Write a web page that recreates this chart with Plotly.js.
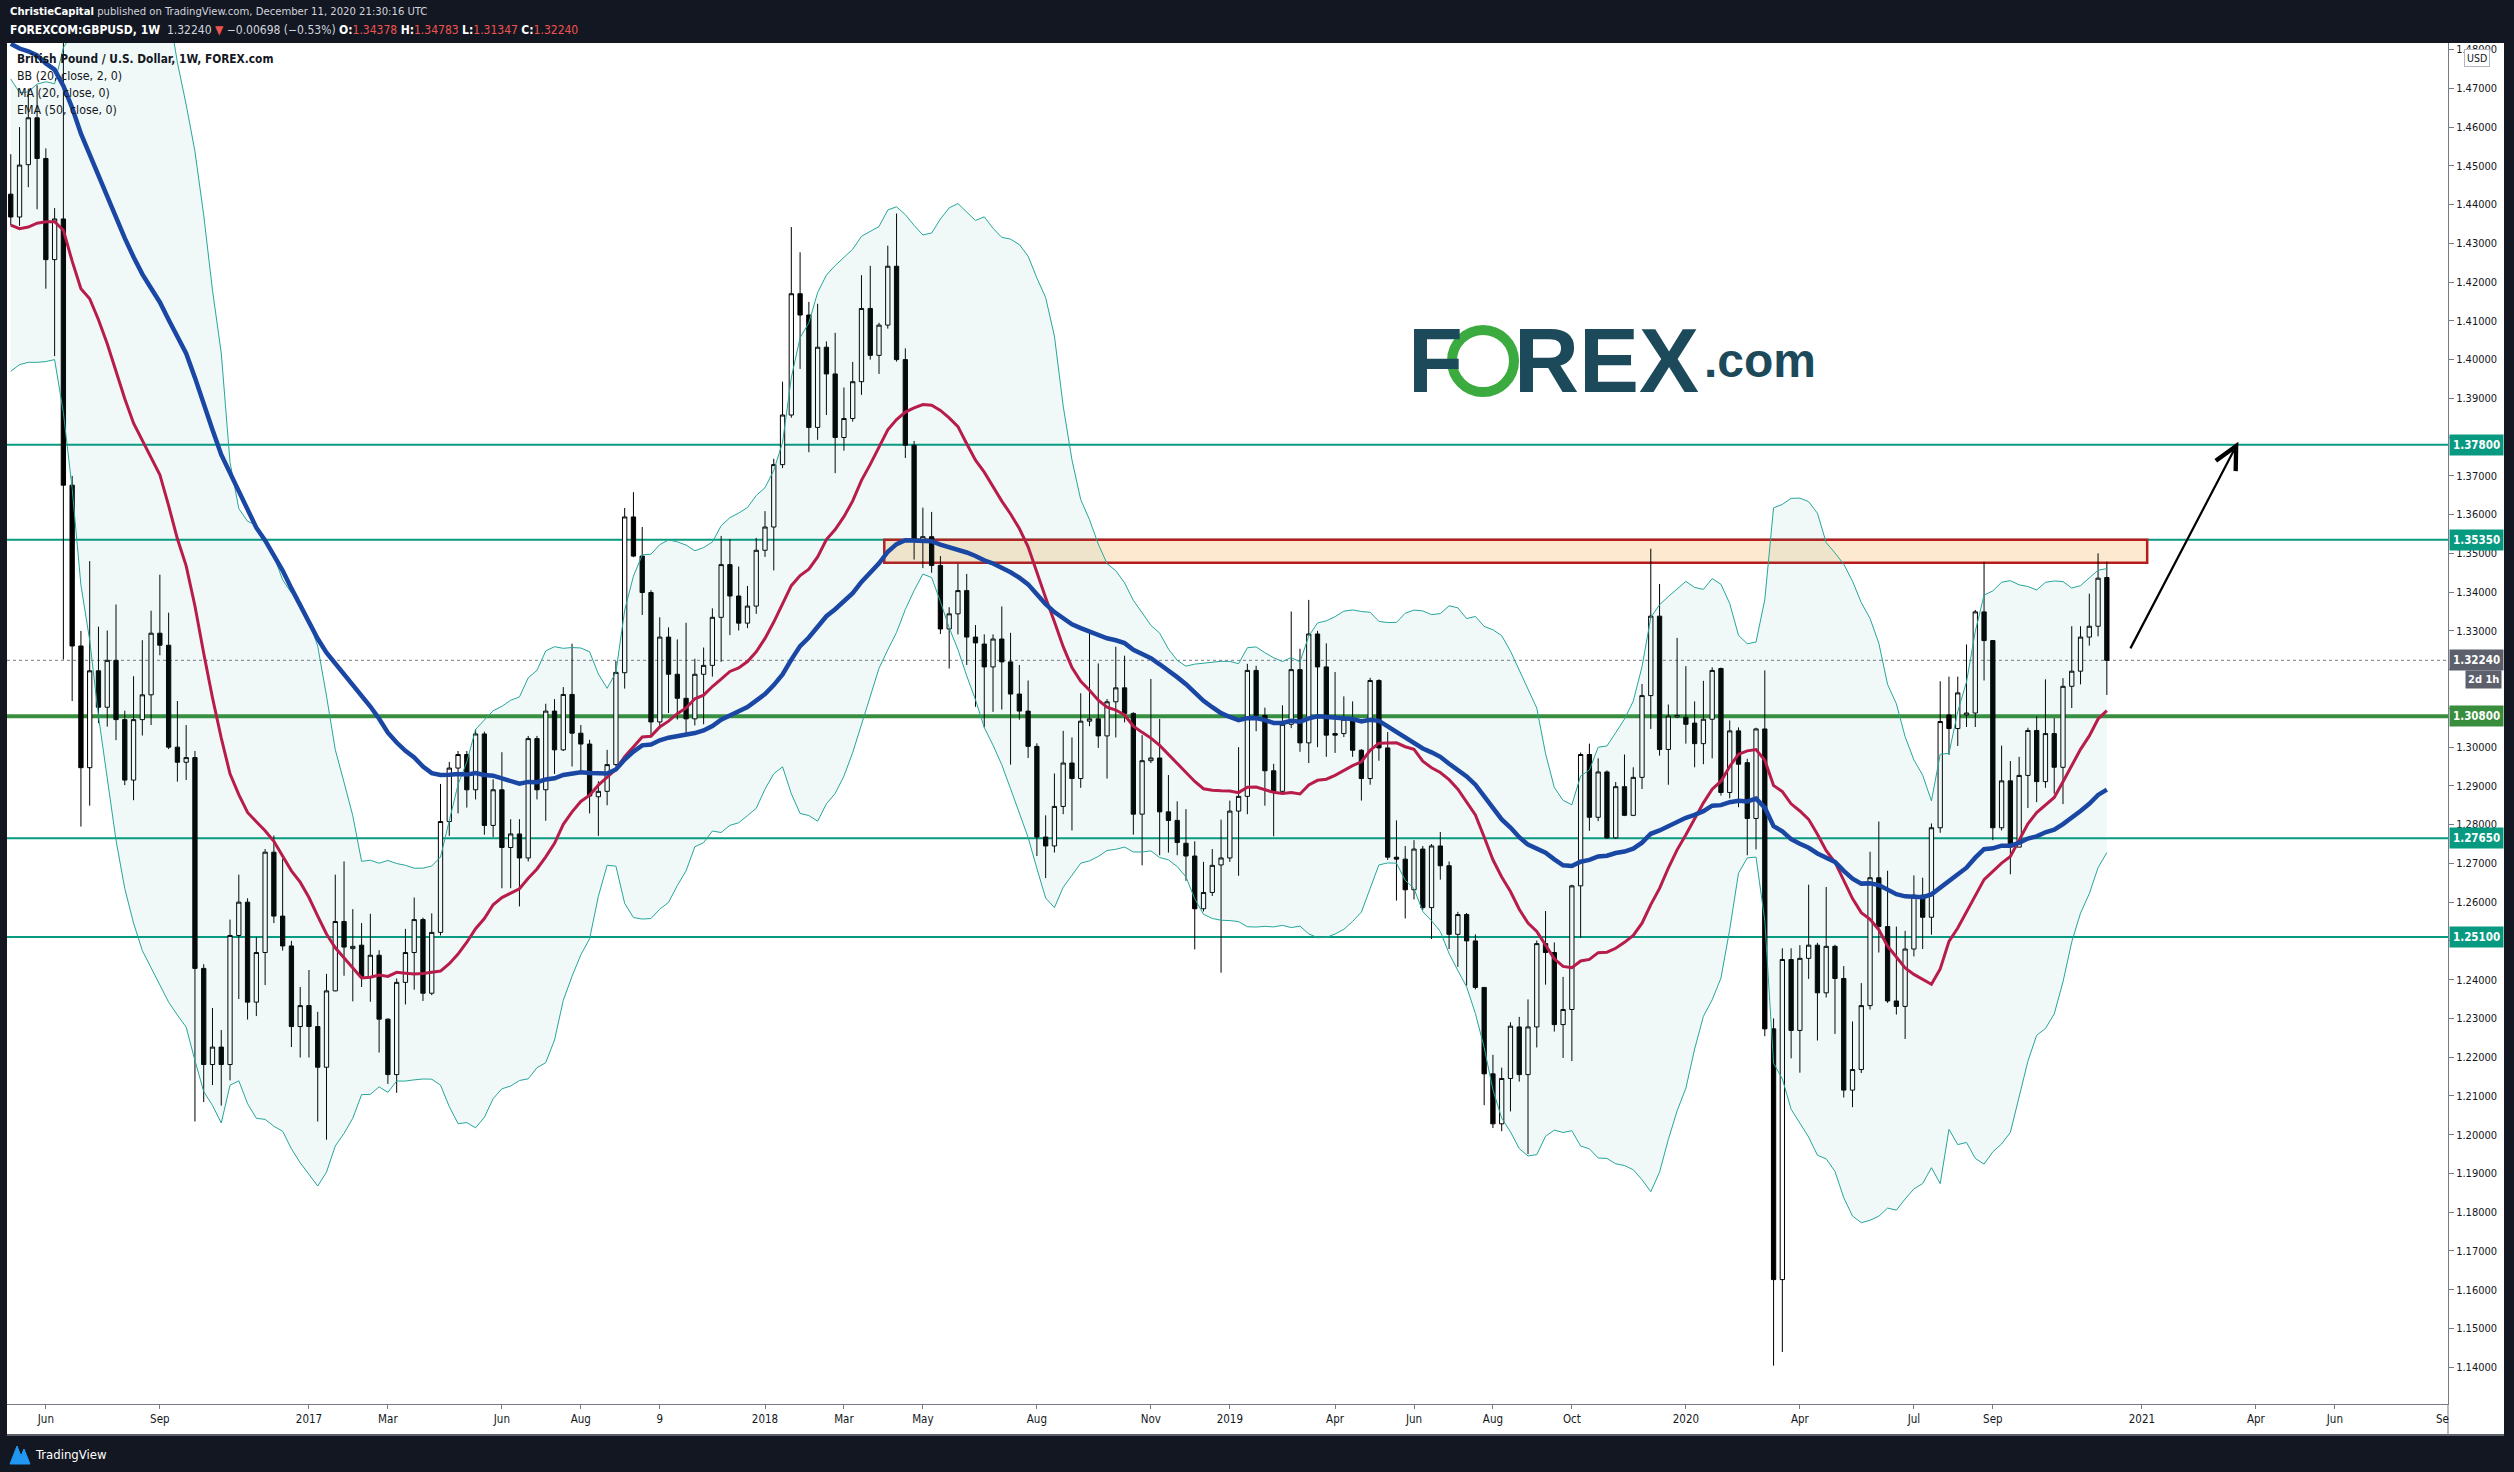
<!DOCTYPE html>
<html><head><meta charset="utf-8">
<script src="https://cdn.plot.ly/plotly-3.0.1.min.js"></script>
<style>html,body{margin:0;padding:0;background:#131722;}#chart{width:2514px;height:1472px;}</style>
</head><body><div id="chart"></div>
<script>
// ---------------- DATA ----------------
const firstWeek = '2016-05-09';
const opens = [1.4427,1.4368,1.4503,1.4624,1.4519,1.4258,1.4363,1.3676,1.3261,1.2947,1.3197,1.3103,1.3224,1.3071,1.2915,1.3071,1.3135,1.3294,1.3263,1.3000,
1.2961,1.2973,1.2429,1.2181,1.2226,1.2181,1.2514,1.2600,1.2342,1.2470,1.2729,1.2564,1.2487,1.2279,1.2333,1.2279,1.2174,1.2371,1.2550,1.2480,
1.2489,1.2408,1.2463,1.2298,1.2155,1.2393,1.2470,1.2555,1.2365,1.2522,1.2808,1.2946,1.2981,1.2890,1.3034,1.2798,1.2890,1.2741,1.2776,1.2714,
1.3022,1.2890,1.3093,1.2993,1.3136,1.3036,1.3008,1.2872,1.2886,1.2955,1.3192,1.3594,1.3493,1.3399,1.3065,1.3284,1.3188,1.3126,1.3073,1.3188,
1.3211,1.3335,1.3471,1.3390,1.3320,1.3364,1.3508,1.3568,1.3729,1.3857,1.4170,1.4115,1.3825,1.4032,1.3963,1.3799,1.3848,1.3943,1.4132,1.4011,
1.4089,1.4241,1.4000,1.3779,1.3532,1.3543,1.3469,1.3305,1.3344,1.3404,1.3284,1.3266,1.3207,1.3279,1.3220,1.3137,1.3093,1.3002,1.2768,1.2745,
1.2847,1.2959,1.2919,1.3067,1.3073,1.3029,1.3117,1.3153,1.3087,1.2827,1.2965,1.2972,1.2833,1.2811,1.2752,1.2719,1.2583,1.2625,1.2696,1.2714,
1.2835,1.2873,1.3198,1.3082,1.2939,1.2886,1.3059,1.3200,1.3011,1.3292,1.3207,1.3035,1.3035,1.3072,1.2992,1.2919,1.3172,1.2998,1.2716,1.2711,
1.2632,1.2737,1.2586,1.2745,1.2694,1.2517,1.2568,1.2500,1.2380,1.2157,1.2028,1.2145,1.2278,1.2155,1.2278,1.2493,1.2470,1.2284,1.2323,1.2642,
1.2981,1.2819,1.2936,1.2766,1.2898,1.2824,1.2922,1.3133,1.3338,1.2994,1.3078,1.3077,1.3062,1.3009,1.3072,1.3203,1.2883,1.3042,1.2960,1.2816,
1.3047,1.2273,1.1626,1.2452,1.2269,1.2455,1.2489,1.2366,1.2486,1.2403,1.2115,1.2168,1.2333,1.2663,1.2537,1.2345,1.2331,1.2479,1.2618,1.2561,
1.2792,1.3083,1.3048,1.3083,1.3088,1.3349,1.3275,1.2792,1.2913,1.2742,1.2927,1.3043,1.2911,1.3035,1.2948,1.3157,1.3196,1.3284,1.3312,1.34378];
const highs = [1.4530,1.4600,1.4699,1.4708,1.4545,1.4391,1.5018,1.3700,1.3300,1.3480,1.3311,1.3301,1.3368,1.3094,1.3183,1.3276,1.3352,1.3445,1.3347,1.3119,
1.3057,1.2990,1.2440,1.2327,1.2270,1.2555,1.2671,1.2610,1.2510,1.2737,1.2772,1.2712,1.2500,1.2381,1.2425,1.2317,1.2415,1.2671,1.2705,1.2582,
1.2546,1.2570,1.2476,1.2300,1.2403,1.2531,1.2612,1.2560,1.2571,1.2905,1.2962,1.2990,1.2990,1.3046,1.3040,1.2917,1.2987,1.2814,1.2814,1.3029,
1.3029,1.3112,1.3124,1.3155,1.3267,1.3057,1.3019,1.2912,1.2993,1.3222,1.3617,1.3658,1.3568,1.3405,1.3335,1.3309,1.3278,1.3321,1.3228,1.3257,
1.3358,1.3545,1.3537,1.3466,1.3416,1.3540,1.3609,1.3744,1.3943,1.4342,1.4277,1.4149,1.4144,1.4047,1.4069,1.3928,1.3994,1.4218,1.4242,1.4095,
1.4294,1.4377,1.4029,1.3790,1.3618,1.3607,1.3493,1.3361,1.3473,1.3447,1.3315,1.3291,1.3291,1.3363,1.3295,1.3212,1.3172,1.3010,1.2824,1.2932,
1.3042,1.3025,1.3139,1.3295,1.3216,1.3124,1.3259,1.3236,1.3090,1.3031,1.3176,1.3073,1.2928,1.2860,1.2840,1.2757,1.2704,1.2737,1.2813,1.2862,
1.3000,1.3215,1.3210,1.3102,1.2957,1.3108,1.3350,1.3254,1.3380,1.3300,1.3268,1.3194,1.3131,1.3118,1.2995,1.3179,1.3175,1.3039,1.2811,1.2745,
1.2760,1.2745,1.2750,1.2781,1.2705,1.2575,1.2572,1.2517,1.2380,1.2206,1.2173,1.2290,1.2304,1.2349,1.2501,1.2577,1.2496,1.2407,1.2645,1.2986,
1.3009,1.2971,1.2940,1.2910,1.2981,1.2948,1.3163,1.3512,1.3421,1.3110,1.3282,1.3209,1.3118,1.3171,1.3206,1.3205,1.3069,1.3051,1.2970,1.3050,
1.3198,1.2300,1.2481,1.2481,1.2489,1.2645,1.2495,1.2639,1.2490,1.2435,1.2292,1.2391,1.2730,1.2808,1.2681,1.2537,1.2526,1.2669,1.2663,1.2803,
1.3170,1.3182,1.3182,1.3265,1.3354,1.3478,1.3275,1.3004,1.2964,1.2975,1.3050,1.3080,1.3175,1.3075,1.3178,1.3312,1.3312,1.3396,1.3500,1.34783];
const lows = [1.4347,1.4345,1.4445,1.4388,1.4183,1.4009,1.3226,1.3119,1.2795,1.2849,1.3062,1.3053,1.3018,1.2902,1.2863,1.3030,1.3057,1.3237,1.2995,1.2911,
1.2915,1.2034,1.2084,1.2128,1.2075,1.2140,1.2350,1.2297,1.2306,1.2386,1.2546,1.2475,1.2226,1.2199,1.2199,1.2034,1.1987,1.2370,1.2410,1.2344,
1.2381,1.2343,1.2212,1.2131,1.2108,1.2336,1.2374,1.2345,1.2360,1.2514,1.2771,1.2829,1.2844,1.2865,1.2774,1.2768,1.2636,1.2636,1.2589,1.2705,
1.2865,1.2810,1.2931,1.2990,1.2950,1.2941,1.2829,1.2771,1.2850,1.2950,1.3151,1.3490,1.3341,1.3031,1.3048,1.3088,1.3071,1.3036,1.3056,1.3059,
1.3182,1.3220,1.3289,1.3301,1.3307,1.3344,1.3491,1.3456,1.3720,1.3850,1.3976,1.3761,1.3793,1.3857,1.3707,1.3765,1.3840,1.3909,1.4000,1.3963,
1.4080,1.3995,1.3746,1.3484,1.3462,1.3450,1.3292,1.3203,1.3291,1.3212,1.3104,1.3051,1.3091,1.3097,1.2955,1.3071,1.2972,1.2719,1.2662,1.2728,
1.2827,1.2785,1.2895,1.3054,1.2998,1.2919,1.3025,1.3064,1.2774,1.2695,1.2959,1.2721,1.2728,1.2721,1.2655,1.2478,1.2576,1.2616,1.2418,1.2704,
1.2668,1.2827,1.3041,1.2849,1.2770,1.2878,1.3049,1.2988,1.2959,1.3000,1.2975,1.2985,1.3026,1.2975,1.2862,1.2903,1.2965,1.2709,1.2604,1.2558,
1.2607,1.2580,1.2505,1.2658,1.2479,1.2433,1.2385,1.2375,1.2076,1.2017,1.2009,1.2060,1.2137,1.1950,1.2225,1.2387,1.2266,1.2198,1.2190,1.2508,
1.2784,1.2809,1.2763,1.2763,1.2822,1.2822,1.2892,1.3047,1.2978,1.2903,1.3075,1.3009,1.2948,1.2956,1.2971,1.2875,1.2868,1.2845,1.2721,1.2736,
1.2254,1.1404,1.1439,1.2197,1.2160,1.2402,1.2243,1.2354,1.2260,1.2096,1.2071,1.2159,1.2323,1.2470,1.2340,1.2310,1.2247,1.2460,1.2479,1.2516,
1.2779,1.2980,1.3003,1.3052,1.3052,1.3172,1.2760,1.2785,1.2672,1.2742,1.2843,1.2858,1.2895,1.2880,1.2853,1.3101,1.3162,1.3262,1.3286,1.31347];
const closes = [1.4368,1.4502,1.4624,1.4519,1.4258,1.4363,1.3676,1.3261,1.2947,1.3197,1.3103,1.3224,1.3071,1.2915,1.3071,1.3135,1.3294,1.3263,1.3000,1.2961,
1.2973,1.2429,1.2181,1.2226,1.2181,1.2514,1.2600,1.2342,1.2470,1.2729,1.2564,1.2487,1.2279,1.2333,1.2279,1.2174,1.2371,1.2550,1.2484,1.2486,
1.2408,1.2463,1.2298,1.2155,1.2393,1.2470,1.2555,1.2365,1.2522,1.2808,1.2946,1.2981,1.2890,1.3034,1.2798,1.2890,1.2741,1.2776,1.2714,1.3022,
1.2890,1.3093,1.2993,1.3136,1.3036,1.3008,1.2874,1.2886,1.2955,1.3193,1.3594,1.3493,1.3399,1.3065,1.3284,1.3188,1.3126,1.3073,1.3188,1.3211,
1.3335,1.3471,1.3390,1.3320,1.3364,1.3508,1.3568,1.3729,1.3857,1.4170,1.4115,1.3825,1.4032,1.3963,1.3799,1.3848,1.3943,1.4132,1.4011,1.4089,
1.4241,1.4000,1.3779,1.3531,1.3543,1.3469,1.3305,1.3344,1.3404,1.3284,1.3269,1.3207,1.3279,1.3220,1.3137,1.3093,1.3002,1.2768,1.2745,1.2847,
1.2959,1.2919,1.3067,1.3073,1.3029,1.3117,1.3153,1.3087,1.2827,1.2965,1.2972,1.2833,1.2811,1.2754,1.2719,1.2583,1.2625,1.2695,1.2714,1.2835,
1.2873,1.3198,1.3082,1.2939,1.2886,1.3059,1.3200,1.3011,1.3292,1.3207,1.3031,1.3031,1.3072,1.2992,1.2919,1.3172,1.2998,1.2716,1.2711,1.2632,
1.2737,1.2586,1.2745,1.2694,1.2517,1.2568,1.2500,1.2380,1.2157,1.2028,1.2145,1.2280,1.2155,1.2278,1.2493,1.2470,1.2284,1.2323,1.2642,1.2981,
1.2819,1.2936,1.2766,1.2898,1.2824,1.2922,1.3133,1.3338,1.2994,1.3080,1.3082,1.3059,1.3009,1.3072,1.3198,1.2883,1.3042,1.2956,1.2816,1.3047,
1.2273,1.1626,1.2452,1.2269,1.2455,1.2489,1.2366,1.2486,1.2403,1.2115,1.2168,1.2333,1.2663,1.2537,1.2345,1.2331,1.2479,1.2618,1.2561,1.2792,
1.3066,1.3048,1.3140,1.3088,1.3349,1.3275,1.2792,1.2913,1.2742,1.2927,1.3043,1.2911,1.3035,1.2948,1.3157,1.3196,1.3284,1.3312,1.3436,1.32240];
// indicator values visible before a full 20-week window exists
const maEarly = [1.4347,1.4338,1.4342,1.4352,1.4356,1.4356,1.4334,1.4254,1.4183,1.4157,1.4103,1.4041,1.3970,1.3899,1.3836,1.3792,1.3747,1.3703,1.3623];
const bbLowerEarly = [1.3970,1.3987,1.3993,1.3993,1.3995,1.4000,1.3863,1.3667,1.3418,1.3276,1.3080,1.2920,1.2760,1.2635,1.2546,1.2475,1.2431,1.2386,1.2342];
const emaStart = 1.4815;
const tealLevels = [1.378, 1.3535, 1.2765, 1.251];
const tealLabels = ['1.37800','1.35350','1.27650','1.25100'];
const greenLevel = 1.308, greenLabel = '1.30800';
const lastPrice = 1.3224, lastLabel = '1.32240', countdown = '2d 1h';
const zoneTop = 1.3535, zoneBottom = 1.3476;
const tickWeeks = [4,17,34,43,56,65,74,86,95,104,117,130,139,151,160,169,178,191,204,217,226,243,256,265];
const tickLabels = ['Jun','Sep','2017','Mar','Jun','Aug','9','2018','Mar','May','Aug','Nov','2019','Apr','Jun','Aug','Oct','2020','Apr','Jul','Sep','2021','Apr','Jun'];
const priceTicks = [1.14,1.15,1.16,1.17,1.18,1.19,1.20,1.21,1.22,1.23,1.24,1.25,1.26,1.27,1.28,1.29,1.30,1.31,1.32,1.33,1.34,1.35,1.36,1.37,1.38,1.39,1.40,1.41,1.42,1.43,1.44,1.45,1.46,1.47,1.48];
const priceTicksHidden = [1.25, 1.31, 1.32, 1.38]; // covered by the coloured price tags

// ---------------- helpers ----------------
const W = 2514, H = 1472, L = 7, R = 2448, T = 43, B = 1404;
const px = x => (x - L) / (R - L);
const py = y => (B - y) / (B - T);
const DAY = 86400000, t0 = Date.parse(firstWeek + 'T00:00:00Z');
const wk = i => new Date(t0 + i * 7 * DAY).toISOString().slice(0, 19).replace('T', ' ');
const n = closes.length;
const dates = closes.map((_, i) => wk(i));

const ma = [], bbU = [], bbL = [];
for (let i = 0; i < n; i++) {
  if (i < maEarly.length) { ma.push(maEarly[i]); bbL.push(bbLowerEarly[i]); bbU.push(2 * maEarly[i] - bbLowerEarly[i]); continue; }
  const w = closes.slice(i - 19, i + 1);
  const m = w.reduce((a, b) => a + b, 0) / 20;
  const sd = Math.sqrt(w.reduce((a, b) => a + (b - m) * (b - m), 0) / 20);
  ma.push(m); bbU.push(m + 2 * sd); bbL.push(m - 2 * sd);
}
const ema = [emaStart];
for (let i = 1; i < n; i++) ema.push(ema[i - 1] + (2 / 51) * (closes[i] - ema[i - 1]));

const FONT = '"DejaVu Sans Condensed","Liberation Sans",Arial,sans-serif';
const TEAL = '#089981', GREEN = '#388e3c', RED = '#ef5350';

const traces = [
  {x: dates, y: bbL, type: 'scatter', mode: 'lines', line: {color: '#26a69a', width: 1}, hoverinfo: 'skip'},
  {x: dates, y: bbU, type: 'scatter', mode: 'lines', line: {color: '#26a69a', width: 1}, fill: 'tonexty', fillcolor: 'rgba(38,166,154,0.07)', hoverinfo: 'skip'},
  {x: dates, open: opens, high: highs, low: lows, close: closes, type: 'candlestick', whiskerwidth: 0,
   increasing: {line: {color: '#000000', width: 1}, fillcolor: '#ffffff'},
   decreasing: {line: {color: '#000000', width: 1}, fillcolor: '#000000'}, hoverinfo: 'skip'},
  {x: dates, y: ma, type: 'scatter', mode: 'lines', line: {color: '#b71c4a', width: 3}, hoverinfo: 'skip'},
  {x: dates, y: ema, type: 'scatter', mode: 'lines', line: {color: '#1a47a3', width: 4.5}, hoverinfo: 'skip'}
];

const shapes = [];
shapes.push({type: 'rect', xref: 'x', yref: 'y', x0: wk(99.6), x1: wk(243.6), y0: zoneBottom, y1: zoneTop,
  fillcolor: '#fde9cf', line: {color: '#b71c1c', width: 2.5}, layer: 'below'});
tealLevels.forEach(v => shapes.push({type: 'line', xref: 'paper', yref: 'y', x0: 0, x1: 1, y0: v, y1: v, line: {color: TEAL, width: 2}, layer: 'below'}));
shapes.push({type: 'line', xref: 'paper', yref: 'y', x0: 0, x1: 1, y0: greenLevel, y1: greenLevel, line: {color: GREEN, width: 4}, layer: 'below'});
shapes.push({type: 'line', xref: 'paper', yref: 'y', x0: 0, x1: 1, y0: lastPrice, y1: lastPrice, line: {color: '#787b86', width: 1, dash: 'dot'}, layer: 'below'});
// frame (header / footer / borders)
shapes.push({type: 'rect', xref: 'paper', yref: 'paper', x0: px(0), x1: px(W), y0: py(T), y1: py(0), fillcolor: '#131722', line: {width: 0}, layer: 'above'});
shapes.push({type: 'rect', xref: 'paper', yref: 'paper', x0: px(0), x1: px(W), y0: py(H), y1: py(1435), fillcolor: '#131722', line: {width: 0}, layer: 'above'});
shapes.push({type: 'rect', xref: 'paper', yref: 'paper', x0: px(0), x1: px(L), y0: py(H), y1: py(0), fillcolor: '#131722', line: {width: 0}, layer: 'above'});
shapes.push({type: 'rect', xref: 'paper', yref: 'paper', x0: px(2504), x1: px(W), y0: py(H), y1: py(0), fillcolor: '#131722', line: {width: 0}, layer: 'above'});
shapes.push({type: 'line', xref: 'paper', yref: 'paper', x0: px(L), x1: px(2504), y0: py(1435), y1: py(1435), line: {color: '#5d606b', width: 2}, layer: 'above'});
shapes.push({type: 'line', xref: 'paper', yref: 'paper', x0: 1, x1: 1, y0: py(1435), y1: 0, line: {color: '#787b86', width: 1}, layer: 'above'});
// FOREX logo "O"
shapes.push({type: 'circle', xref: 'paper', yref: 'paper', x0: px(1452), x1: px(1514), y0: py(392), y1: py(330), fillcolor: 'rgba(0,0,0,0)', line: {color: '#3cab3f', width: 10}, layer: 'above'});
// TradingView footer icon
shapes.push({type: 'path', xref: 'paper', yref: 'paper',
  path: `M ${px(10)} ${py(1464)} L ${px(17)} ${py(1446)} L ${px(21)} ${py(1456)} L ${px(24)} ${py(1449)} L ${px(30)} ${py(1464)} Z`,
  fillcolor: '#2196f3', line: {color: '#2196f3', width: 1}, layer: 'above'});

const ann = [];
const hdr = (txt, y, size) => ({xref: 'paper', yref: 'paper', x: px(8), y: py(y), xanchor: 'left', yanchor: 'middle', text: txt, showarrow: false, font: {family: FONT, size: size, color: '#d1d4dc'}});
const wb = s => '<b><span style="color:#ffffff">' + s + '</span></b>';
const rd = s => '<span style="color:' + RED + '">' + s + '</span>';
ann.push(hdr(wb('ChristieCapital') + ' published on TradingView.com, December 11, 2020 21:30:16 UTC', 12, 11.2));
ann.push(hdr(wb('FOREXCOM:GBPUSD, 1W') + '  1.32240 ' + rd('▼') + ' −0.00698 (−0.53%) ' + wb('O:') + rd('1.34378') + ' ' + wb('H:') + rd('1.34783') + ' ' + wb('L:') + rd('1.31347') + ' ' + wb('C:') + rd('1.32240'), 30, 12));
const leg = (txt, y, size) => ({xref: 'paper', yref: 'paper', x: px(15), y: py(y), xanchor: 'left', yanchor: 'middle', text: txt, showarrow: false, font: {family: FONT, size: size, color: '#131722'}});
ann.push(leg('<b>British Pound / U.S. Dollar, 1W, FOREX.com</b>', 59, 11.8));
ann.push(leg('BB (20, close, 2, 0)', 76, 12.3));
ann.push(leg('MA (20, close, 0)', 93, 12.3));
ann.push(leg('EMA (50, close, 0)', 110, 12.3));
// price tags on the right axis
const tag = (txt, y, bg) => ({xref: 'paper', yref: 'y', x: 1, y: y, xanchor: 'left', yanchor: 'middle', xshift: 1, text: '<b>' + txt + '</b>', showarrow: false, bgcolor: bg, borderpad: 3, font: {family: FONT, size: 11.5, color: '#ffffff'}});
tealLevels.forEach((v, i) => ann.push(tag(tealLabels[i], v, TEAL)));
ann.push(tag(greenLabel, greenLevel, GREEN));
ann.push(tag(lastLabel, lastPrice, '#5d606b'));
ann.push({xref: 'paper', yref: 'y', x: px(2502), y: lastPrice, yshift: -19, xanchor: 'right', yanchor: 'middle', text: '<b>' + countdown + '</b>', showarrow: false, bgcolor: '#5d606b', borderpad: 2, font: {family: FONT, size: 11, color: '#ffffff'}});
ann.push({xref: 'paper', yref: 'paper', x: px(2477), y: py(58), xanchor: 'center', yanchor: 'middle', text: 'USD', showarrow: false, bgcolor: '#ffffff', bordercolor: '#b2b5be', borderwidth: 1, borderpad: 2, font: {family: FONT, size: 10.5, color: '#131722'}});
ann.push({xref: 'paper', yref: 'paper', x: px(2442), y: py(1419), xanchor: 'center', yanchor: 'middle', text: 'Se', showarrow: false, font: {family: FONT, size: 11.5, color: '#131722'}});
// arrow
ann.push({xref: 'x', yref: 'y', axref: 'x', ayref: 'y', x: wk(254), y: 1.3788, ax: wk(241.6), ay: 1.3251, text: '', showarrow: true, arrowhead: 5, arrowsize: 2, arrowwidth: 2.2, arrowcolor: '#000000'});
// FOREX.com logo text
const logo = (txt, x, size) => ({xref: 'paper', yref: 'paper', x: px(x), y: py(361), xanchor: 'left', yanchor: 'middle', text: '<b>' + txt + '</b>', showarrow: false, font: {family: '"Liberation Sans",Arial,sans-serif', size: size, color: '#1d4a5a'}});
ann.push(logo('F', 1406, 90));
ann.push(logo('REX', 1512, 90));
ann.push(logo('.com', 1702, 48));
// footer
ann.push({xref: 'paper', yref: 'paper', x: px(33), y: py(1454), xanchor: 'left', yanchor: 'middle', text: 'TradingView', showarrow: false, font: {family: FONT, size: 13, color: '#ffffff'}});

const layout = {
  width: W, height: H, autosize: false,
  margin: {l: L, r: W - R, t: T, b: H - B, pad: 0},
  paper_bgcolor: '#ffffff', plot_bgcolor: '#ffffff',
  showlegend: false, hovermode: false,
  font: {family: FONT, size: 12, color: '#131722'},
  xaxis: {type: 'date', range: [wk(-0.43), wk(277.9)], tickvals: tickWeeks.map(wk), ticktext: tickLabels,
    ticks: 'outside', ticklen: 4, tickcolor: '#787b86', showline: true, linecolor: '#787b86', linewidth: 1,
    showgrid: false, zeroline: false, rangeslider: {visible: false}, tickfont: {family: FONT, size: 11.5, color: '#131722'}},
  yaxis: {side: 'right', range: [1.1305, 1.4817], tickvals: priceTicks,
    ticktext: priceTicks.map(v => priceTicksHidden.includes(v) ? '' : v.toFixed(5)),
    ticks: 'outside', ticklen: 5, tickcolor: '#787b86', showline: true, linecolor: '#787b86', linewidth: 1,
    showgrid: false, zeroline: false, tickfont: {family: FONT, size: 11, color: '#131722'}},
  shapes: shapes, annotations: ann
};
Plotly.newPlot('chart', traces, layout, {staticPlot: true});
</script></body></html>
